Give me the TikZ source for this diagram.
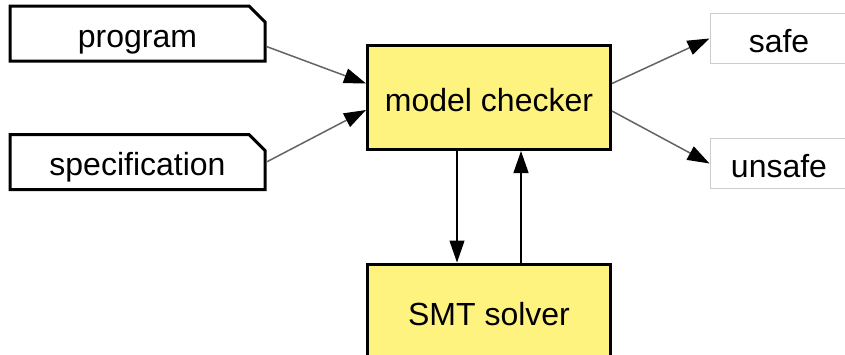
\documentclass[tikz,border=0pt]{standalone}
\usepackage{fontspec}
\setmainfont{Liberation Sans}
\usetikzlibrary{arrows.meta,shapes.misc}
\definecolor{boxyellow}{RGB}{255,243,128}
\definecolor{linegray}{RGB}{100,100,100}
\definecolor{framegray}{RGB}{205,205,205}
\tikzset{
  label text/.style={text height=33pt, text depth=6pt},
  inbox/.style={chamfered rectangle, chamfered rectangle corners=north east,
    chamfered rectangle xsep=8pt, chamfered rectangle ysep=8pt,
    draw, line width=3pt, fill=white, inner sep=0pt, label text,
    minimum width=255pt, minimum height=49pt},
  toolbox/.style={rectangle, draw, line width=3pt, fill=boxyellow, inner sep=0pt,
    label text, minimum width=243pt},
  outbox/.style={rectangle, draw=framegray, line width=1pt, inner sep=0pt,
    label text, minimum width=138pt, minimum height=50pt},
  feed/.style={->, draw=linegray, line width=1.5pt},
  query/.style={->, line width=1.2pt}
}
\begin{document}
\begin{tikzpicture}[x=1pt, y=-1pt, font=\fontsize{32}{38}\selectfont,
  >={Triangle[length=22pt,width=15pt,color=black]}]
\useasboundingbox (0,0) rectangle (845,354);
% inputs
\node[inbox] (prog) at (137.5,33.5) {program};
\node[inbox] (spec) at (137.5,162) {specification};
% tools
\node[toolbox, minimum height=104pt] (mc) at (489,97.5) {model checker};
\node[toolbox, minimum height=96pt] (smt) at (489,312) {SMT solver};
% results
\node[outbox] (safe) at (779,38.5) {safe};
\node[outbox] (unsafe) at (779,163.5) {unsafe};
\draw[feed] ([yshift=-13pt]prog.east) -- ([yshift=14pt]mc.west);
\draw[feed] (spec.east) -- ([yshift=-12.5pt]mc.west);
\draw[feed] ([yshift=14pt]mc.east) -- (safe.west);
\draw[feed] ([yshift=-13.5pt]mc.east) -- (unsafe.west);
\draw[query] ([xshift=-32pt]mc.south) -- ([xshift=-32pt]smt.north);
\draw[query] ([xshift=32pt]smt.north) -- ([xshift=32pt]mc.south);
\end{tikzpicture}
\end{document}
